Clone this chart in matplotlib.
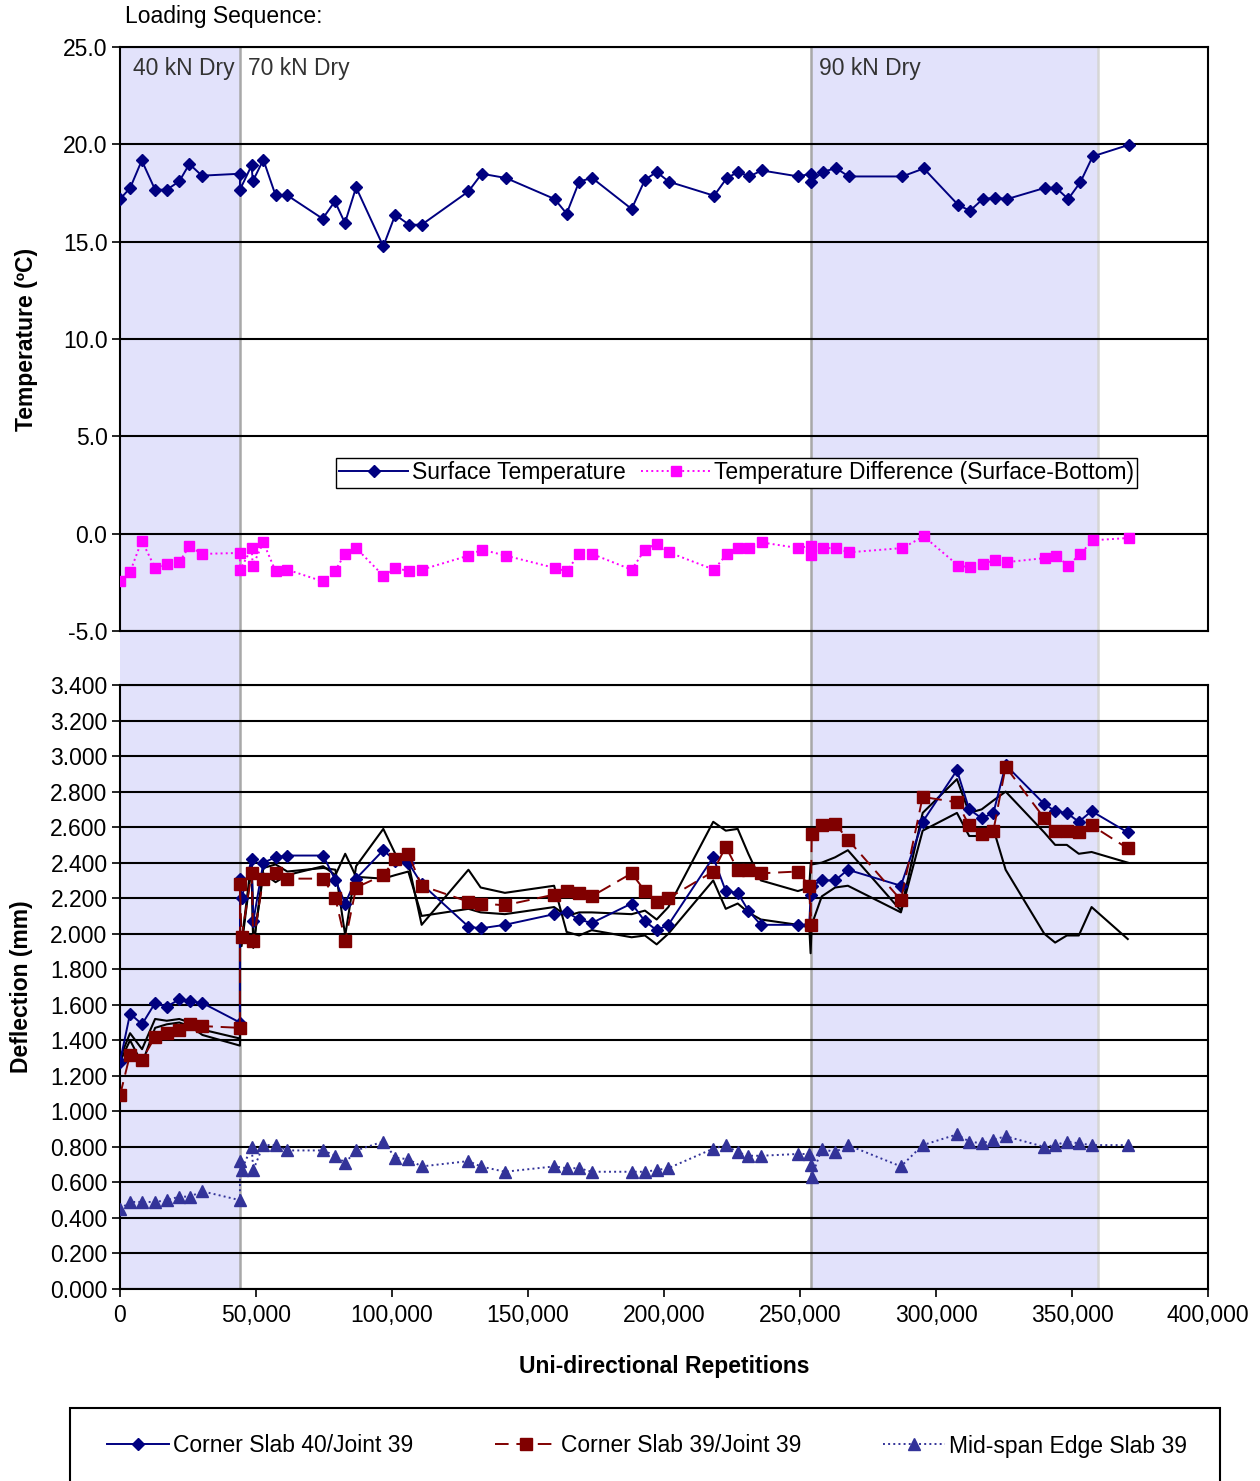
import matplotlib

matplotlib.use("Agg")
import matplotlib.pyplot as plt
from matplotlib.lines import Line2D
from matplotlib.patches import Rectangle
from matplotlib.ticker import FuncFormatter, MultipleLocator

plt.rcParams["font.family"] = ["Liberation Sans", "DejaVu Sans"]

# temperature readings (top panel)
TEMP_REPS = [
    0, 3700, 8000, 12900, 17200, 21800, 25500, 30100, 44100, 44100,
    48400, 48800, 52700, 57200, 61500, 74500, 79000, 82700, 86800, 96800,
    101200, 106300, 110900, 128100, 133000, 141900, 159800, 164200, 168800, 173500,
    188100, 193000, 197300, 201800, 218400, 223100, 227300, 231400, 235900, 249400,
    253900, 253900, 258300, 263200, 267900, 287600, 295500, 308200, 312500, 317200,
    321800, 326200, 340200, 344100, 348600, 353100, 357600, 371000,
]
SURFACE_TEMP = [
    17.19, 17.75, 19.17, 17.67, 17.67, 18.10, 18.99, 18.39, 18.49, 17.67,
    18.92, 18.10, 19.21, 17.38, 17.38, 16.18, 17.07, 15.96, 17.79, 14.76,
    16.38, 15.87, 15.87, 17.58, 18.49, 18.27, 17.19, 16.44, 18.08, 18.28,
    16.68, 18.18, 18.58, 18.08, 17.36, 18.27, 18.58, 18.35, 18.66, 18.35,
    18.49, 18.04, 18.58, 18.78, 18.35, 18.35, 18.76, 16.88, 16.59, 17.19,
    17.26, 17.19, 17.77, 17.77, 17.19, 18.06, 19.38, 19.98,
]
TEMP_DIFF = [
    -2.45, -1.97, -0.36, -1.76, -1.56, -1.46, -0.65, -1.04, -0.99, -1.88,
    -0.74, -1.64, -0.45, -1.93, -1.85, -2.45, -1.93, -1.04, -0.74, -2.16,
    -1.76, -1.93, -1.85, -1.13, -0.82, -1.13, -1.76, -1.93, -1.04, -1.04,
    -1.85, -0.82, -0.51, -0.96, -1.85, -1.04, -0.74, -0.74, -0.45, -0.74,
    -0.62, -1.08, -0.74, -0.74, -0.96, -0.74, -0.14, -1.64, -1.73, -1.56,
    -1.34, -1.46, -1.25, -1.13, -1.64, -1.04, -0.34, -0.22,
]

# deflection readings (bottom panel)
DEFL_REPS = [
    0, 3700, 8100, 12900, 17200, 21800, 25700, 30300, 44100, 44100,
    44700, 48400, 49000, 52700, 57200, 61500, 74700, 79200, 82800, 86800,
    96800, 101200, 106000, 110900, 128100, 132600, 141500, 159600, 164200, 168800,
    173400, 188100, 193000, 197300, 201600, 218100, 222700, 227100, 231000, 235600,
    249200, 253400, 253900, 254300, 258000, 262900, 267600, 287100, 295100, 307700,
    312200, 316800, 321100, 325600, 339800, 343800, 348100, 352500, 357200, 370500,
]
CORNER_40 = [
    1.28, 1.55, 1.49, 1.61, 1.59, 1.63, 1.62, 1.61, 1.50, 2.31,
    2.20, 2.42, 2.07, 2.40, 2.43, 2.44, 2.44, 2.30, 2.17, 2.31,
    2.47, 2.41, 2.40, 2.28, 2.04, 2.03, 2.05, 2.11, 2.12, 2.08,
    2.06, 2.17, 2.07, 2.02, 2.05, 2.43, 2.24, 2.23, 2.13, 2.05,
    2.05, 2.05, 2.22, 2.27, 2.30, 2.30, 2.36, 2.27, 2.63, 2.92,
    2.70, 2.65, 2.68, 2.95, 2.73, 2.69, 2.68, 2.63, 2.69, 2.57,
]
CORNER_39 = [
    1.09, 1.32, 1.29, 1.42, 1.44, 1.46, 1.49, 1.48, 1.47, 2.28,
    1.98, 2.34, 1.96, 2.31, 2.34, 2.31, 2.31, 2.20, 1.96, 2.26,
    2.33, 2.42, 2.45, 2.27, 2.18, 2.17, 2.16, 2.22, 2.24, 2.23,
    2.21, 2.34, 2.24, 2.18, 2.20, 2.35, 2.49, 2.36, 2.36, 2.34,
    2.35, 2.27, 2.05, 2.56, 2.61, 2.62, 2.53, 2.19, 2.77, 2.74,
    2.61, 2.56, 2.58, 2.94, 2.65, 2.58, 2.58, 2.57, 2.61, 2.48,
]
MIDSPAN_39 = [
    0.45, 0.49, 0.49, 0.49, 0.50, 0.52, 0.52, 0.55, 0.50, 0.72,
    0.67, 0.80, 0.67, 0.81, 0.81, 0.78, 0.78, 0.75, 0.71, 0.78,
    0.83, 0.74, 0.73, 0.69, 0.72, 0.69, 0.66, 0.69, 0.68, 0.68,
    0.66, 0.66, 0.66, 0.67, 0.68, 0.79, 0.81, 0.77, 0.75, 0.75,
    0.76, 0.76, 0.70, 0.63, 0.79, 0.77, 0.81, 0.69, 0.81, 0.87,
    0.83, 0.82, 0.84, 0.86, 0.80, 0.81, 0.83, 0.82, 0.81, 0.81,
]
# two unlabelled black traces
BLACK_A = [
    1.30, 1.44, 1.35, 1.52, 1.51, 1.52, 1.50, 1.46, 1.41, 2.00,
    1.95, 2.42, 1.92, 2.37, 2.39, 2.35, 2.37, 2.36, 1.99, 2.38,
    2.59, 2.45, 2.40, 2.05, 2.36, 2.26, 2.23, 2.27, 2.01, 1.99,
    2.02, 1.98, 1.99, 1.94, 2.00, 2.30, 2.14, 2.17, 2.12, 2.08,
    2.05, 2.04, 1.89, 2.05, 2.21, 2.26, 2.27, 2.12, 2.58, 2.68,
    2.55, 2.55, 2.59, 2.36, 2.00, 1.95, 1.99, 1.99, 2.15, 1.97,
]
BLACK_B = [
    1.28, 1.40, 1.27, 1.47, 1.49, 1.50, 1.48, 1.43, 1.37, 1.95,
    1.93, 2.38, 1.93, 2.34, 2.29, 2.33, 2.38, 2.33, 2.45, 2.32,
    2.31, 2.33, 2.35, 2.10, 2.14, 2.12, 2.11, 2.15, 2.10, 2.12,
    2.12, 2.11, 2.13, 2.08, 2.15, 2.63, 2.58, 2.59, 2.45, 2.30,
    2.24, 2.26, 2.39, 2.39, 2.40, 2.43, 2.47, 2.13, 2.68, 2.87,
    2.68, 2.70, 2.75, 2.80, 2.57, 2.50, 2.50, 2.45, 2.46, 2.40,
]

STAGE_LABELS = ["40 kN Dry", "70 kN Dry", "90 kN Dry"]
STAGE_STARTS = [0, 44100, 253900]
STAGE_ENDS = [44100, 253900, 359400]
STAGE_SHADED = [True, False, True]

SHADE = "#E2E2FB"
NAVY = "#000080"
MAROON = "#800000"
PINK = "#FF00FF"
INDIGO = "#333399"
FS = 16.5

fig = plt.figure(figsize=(12.6, 14.81), dpi=100)
W, H = 1260, 1481
left, right = 120 / W, 1208 / W
top_ax = [left, 1 - 631 / H, right - left, 584 / H]
bot_ax = [left, 1 - 1289 / H, right - left, 604 / H]

# shaded loading stages spanning both panels and the gap
bg = fig.add_axes([left, bot_ax[1], right - left, top_ax[1] + top_ax[3] - bot_ax[1]])
bg.set_xlim(0, 400000)
bg.set_ylim(0, 1)
bg.axis("off")
for start, end, shaded in zip(STAGE_STARTS, STAGE_ENDS, STAGE_SHADED):
    if shaded:
        bg.axvspan(start, end, color=SHADE, lw=0)
bg.axvline(STAGE_STARTS[1], color="#A8A8A8", lw=1.8)
bg.axvline(STAGE_STARTS[2], color="#A8A8A8", lw=1.8)
bg.axvline(STAGE_ENDS[2], color="#D6D6D6", lw=1.8)

ax1 = fig.add_axes(top_ax)
ax2 = fig.add_axes(bot_ax)
for ax in (ax1, ax2):
    ax.set_facecolor("none")
    ax.set_xlim(0, 400000)
    ax.grid(axis="y", color="black", lw=1.5)
    ax.set_axisbelow(True)
    for side in ("left", "right", "top", "bottom"):
        ax.spines[side].set_color("black")
        ax.spines[side].set_linewidth(1.5)
    ax.tick_params(axis="y", direction="out", length=6, width=1.2, labelsize=FS, pad=3)

# top panel
ax1.set_ylim(-5, 25)
ax1.yaxis.set_major_locator(MultipleLocator(5))
ax1.yaxis.set_major_formatter(FuncFormatter(lambda v, p: f"{v:.1f}"))
ax1.tick_params(axis="x", bottom=False, labelbottom=False)
ax1.plot(TEMP_REPS, SURFACE_TEMP, color=NAVY, lw=1.4, marker="D", ms=6.5,
         label="Surface Temperature", zorder=3)
ax1.plot(TEMP_REPS, TEMP_DIFF, color=PINK, lw=1.4, ls=":", marker="s", ms=7.5,
         mec=PINK, label="Temperature Difference (Surface-Bottom)", zorder=3)
ax1.set_ylabel("Temperature (ºC)", fontsize=FS, fontweight="bold", labelpad=18)
for label, start in zip(STAGE_LABELS, STAGE_STARTS):
    offset = 4800 if start == 0 else 3100
    ax1.text(start + offset, 23.9, label, fontsize=FS, color="#333333",
             va="center", ha="left")
leg1 = ax1.legend(loc="upper left", bbox_to_anchor=(0.1985, 0.2962), ncol=2,
                  fontsize=FS, frameon=True, fancybox=False, edgecolor="black",
                  framealpha=1, borderpad=0.15, borderaxespad=0, handlelength=3.0,
                  handletextpad=0.15, columnspacing=0.7)
leg1.get_frame().set_linewidth(1.0)

# bottom panel
ax2.set_ylim(0, 3.4)
ax2.yaxis.set_major_locator(MultipleLocator(0.2))
ax2.yaxis.set_major_formatter(FuncFormatter(lambda v, p: f"{v:.3f}"))
ax2.xaxis.set_major_locator(MultipleLocator(50000))
ax2.xaxis.set_major_formatter(FuncFormatter(lambda v, p: f"{v:,.0f}"))
ax2.tick_params(axis="x", direction="out", length=6, width=1.2, labelsize=FS, pad=5)
ax2.plot(DEFL_REPS, BLACK_A, color="black", lw=1.5, zorder=2)
ax2.plot(DEFL_REPS, BLACK_B, color="black", lw=1.5, zorder=2)
ax2.plot(DEFL_REPS, CORNER_40, color=NAVY, lw=1.4, marker="D", ms=6.5, zorder=3)
ax2.plot(DEFL_REPS, CORNER_39, color=MAROON, lw=1.4, ls=(0, (7, 4)), marker="s",
         ms=8, zorder=4)
ax2.plot(DEFL_REPS, MIDSPAN_39, color=INDIGO, lw=1.4, ls=":", marker="^", ms=8,
         zorder=3)
ax2.set_ylabel("Deflection (mm)", fontsize=FS, fontweight="bold", labelpad=12)
ax2.set_xlabel("Uni-directional Repetitions", fontsize=FS, fontweight="bold",
               labelpad=20)

fig.text(125 / W, 1 - 17 / H, "Loading Sequence:", fontsize=FS, va="center",
         ha="left")

# bottom legend box (cut off by the figure edge)
fig.patches.append(Rectangle((70 / W, -0.02), 1150 / W, 0.02 + 1 - 1408 / H,
                             transform=fig.transFigure, fill=False,
                             edgecolor="black", lw=1.5))
handles = [
    Line2D([], [], color=NAVY, lw=1.4, marker="D", ms=6.5),
    Line2D([], [], color=MAROON, lw=1.4, ls=(0, (7, 4)), marker="s", ms=8),
    Line2D([], [], color=INDIGO, lw=1.4, ls=":", marker="^", ms=8),
]
labels = ["Corner Slab 40/Joint 39", "Corner Slab 39/Joint 39",
          "Mid-span Edge Slab 39"]
fig.legend(handles, labels, loc="center", bbox_to_anchor=(647 / W, 1 - 1446 / H),
           ncol=3, frameon=False, fontsize=FS, handlelength=2.7,
           handletextpad=0.15, columnspacing=3.6)

fig.savefig("out.png", dpi=100)
